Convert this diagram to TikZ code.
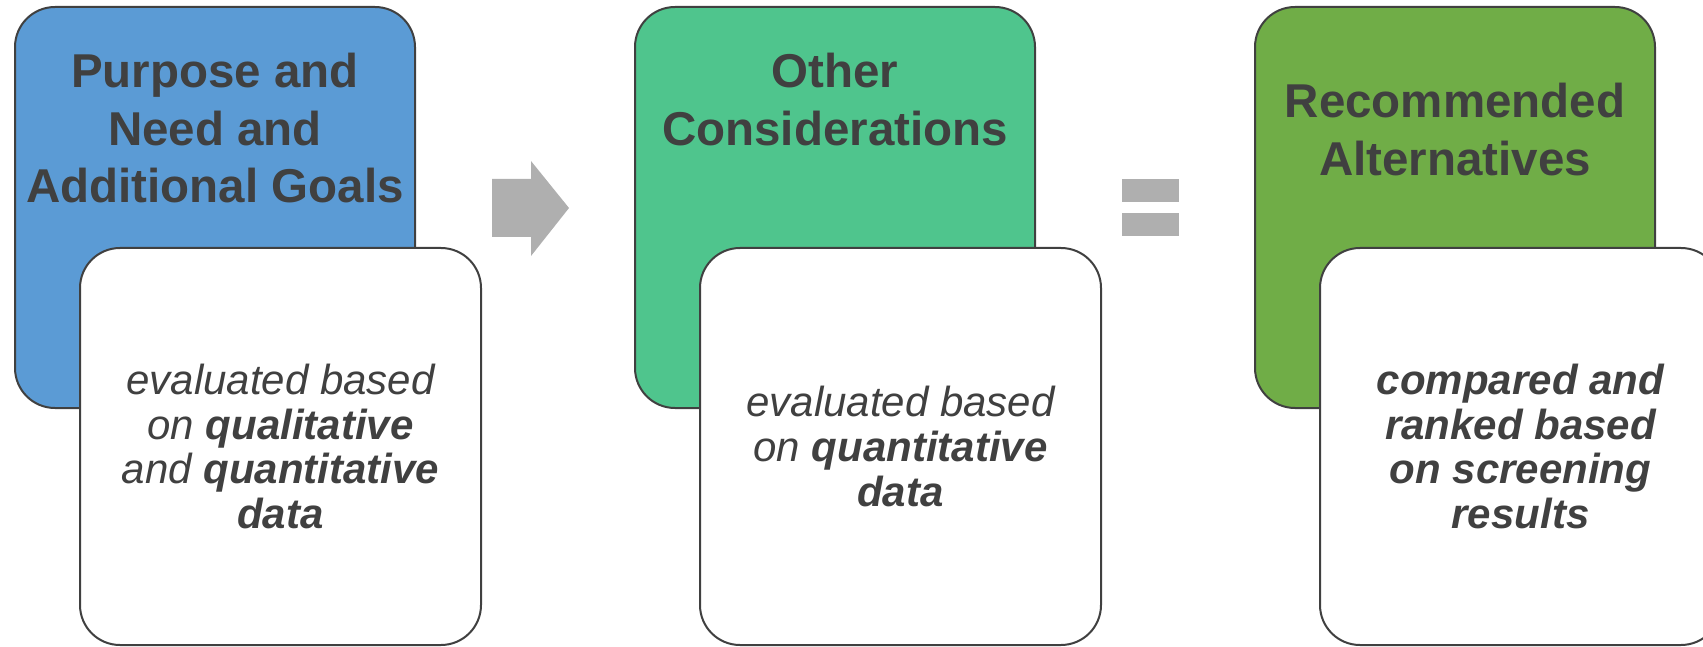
\documentclass[tikz,border=0pt]{standalone}
\usepackage{fontspec}
\setmainfont{Liberation Sans}
\usetikzlibrary{positioning}
\definecolor{edgegray}{HTML}{404040}
\definecolor{signgray}{HTML}{AFAFAF}
\definecolor{purposeblue}{HTML}{5B9BD5}
\definecolor{otherteal}{HTML}{4FC58D}
\definecolor{recgreen}{HTML}{70AD47}

\begin{document}
\begin{tikzpicture}[x=1pt,y=-1pt,
	stagebox/.style={draw=edgegray,line width=2pt,rounded corners=40pt,minimum width=400pt,minimum height=401pt,inner sep=0pt,outer sep=0pt},
	notebox/.style={draw=edgegray,fill=white,line width=2pt,rounded corners=40pt,minimum width=401pt,minimum height=397pt,inner sep=0pt,outer sep=0pt},
	headtext/.style={text=edgegray,font=\fontsize{47.5}{57.5}\selectfont\bfseries,align=center,anchor=north,inner sep=0pt},
	notetext/.style={text=edgegray,font=\fontsize{42}{44.7}\selectfont\itshape,align=center,inner sep=0pt}]
					\clip (0,0) rectangle (1703,647);
					\node[stagebox,fill=purposeblue] (purpose) at (215,207.5) {};
					\node[headtext] (purposehead) at (215,53) {Purpose and\\Need and\\Additional Goals};
					\node[notebox] (purposenote) at (280.5,446.5) {};
					\node[notetext] (purposetext) at (purposenote) {evaluated based\\on \textbf{qualitative}\\and \textbf{quantitative}\\\textbf{data}};
					\node[stagebox,fill=otherteal] (other) at (835,207.5) {};
					\node[headtext] (otherhead) at (835,53) {Other\\Considerations};
					\node[notebox] (othernote) at (900.5,446.5) {};
					\node[notetext] (othertext) at (othernote) {evaluated based\\on \textbf{quantitative}\\\textbf{data}};
					\node[stagebox,fill=recgreen] (recommended) at (1455,207.5) {};
					\node[headtext] (recommendedhead) at (1455,83) {Recommended\\Alternatives};
					\node[notebox] (recommendednote) at (1520.5,446.5) {};
					\node[notetext,font=\fontsize{42}{44.7}\selectfont\bfseries\itshape] (recommendedtext) at (recommendednote) {compared and\\ranked based\\on screening\\results};
					\fill[signgray] (492,179) -- (531,179) -- (531,161) -- (569,208) -- (531,256) -- (531,237) -- (492,237) -- cycle;
					\foreach \y in {179,213}
					\fill[signgray] (1122,\y) rectangle (1179,\y+23);
				\end{tikzpicture}
\end{document}
